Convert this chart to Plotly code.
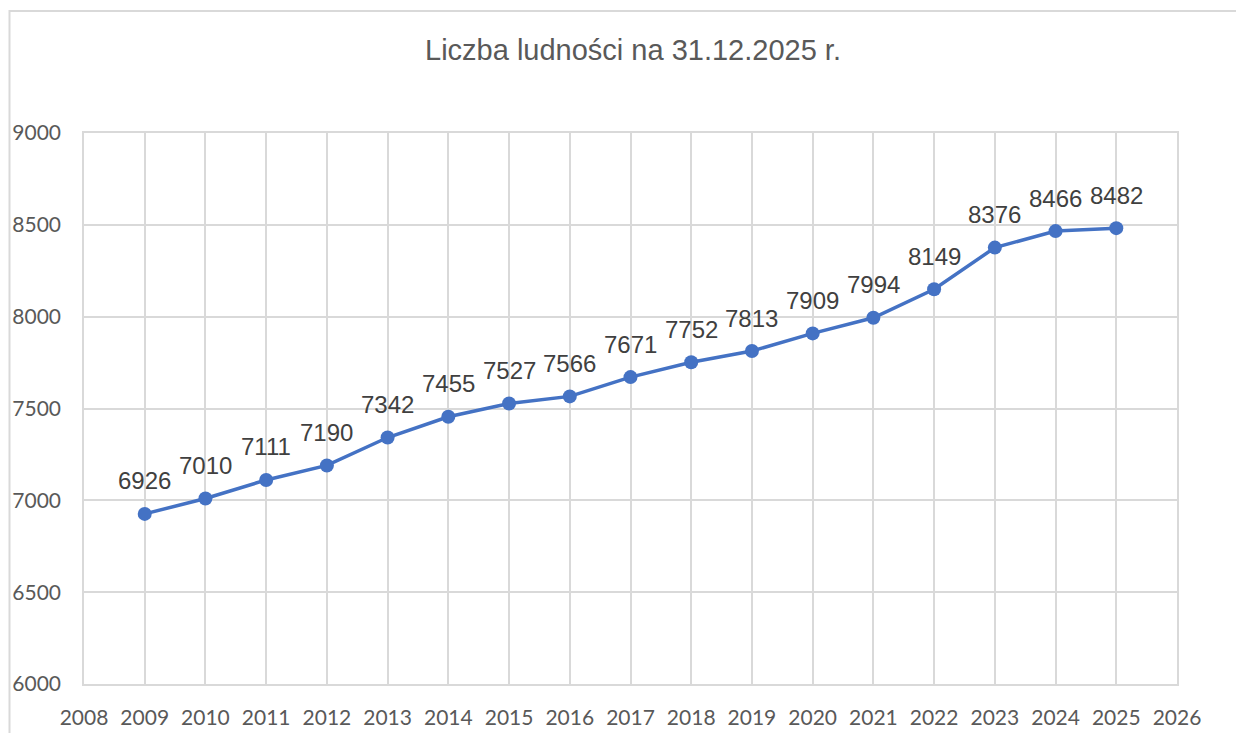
import plotly.graph_objects as go

years = [2009, 2010, 2011, 2012, 2013, 2014, 2015, 2016, 2017, 2018, 2019, 2020, 2021, 2022, 2023, 2024, 2025]
population = [6926, 7010, 7111, 7190, 7342, 7455, 7527, 7566, 7671, 7752, 7813, 7909, 7994, 8149, 8376, 8466, 8482]
title_text = "Liczba ludności na 31.12.2025 r."

# page has an 8px body margin; figure coordinates are page - 8
OFF = 8
W, H = 1244 - OFF, 733 - OFF
L, R, T, B = 84 - OFF, 1177 - OFF, 133 - OFF, 684 - OFF

fig = go.Figure()
fig.add_trace(go.Scatter(
    x=years, y=population, mode="lines+markers",
    line=dict(color="#4472C4", width=3.5),
    marker=dict(color="#4472C4", size=14),
    cliponaxis=False, showlegend=False,
))

for yr, val in zip(years, population):
    fig.add_annotation(x=yr, y=val, text=str(val), showarrow=False,
                       yshift=33, xanchor="center", yanchor="middle",
                       font=dict(family="Liberation Sans, Arial", size=24, color="#404040"))

def px_x(p):
    return (p - L) / (R - L)

def px_y(p):
    return (B - p) / (B - T)

fig.add_shape(type="rect", xref="paper", yref="paper",
              x0=px_x(9.5 - OFF), x1=px_x(1243 - OFF), y0=px_y(745), y1=px_y(11 - OFF),
              line=dict(color="#d9d9d9", width=2), layer="below")

fig.update_layout(
    width=W, height=H,
    margin=dict(l=L, r=W - R, t=T, b=H - B, autoexpand=False),
    paper_bgcolor="white", plot_bgcolor="white",
    title=dict(text=title_text, x=(633 - OFF) / W, xanchor="center", y=1 - (50 - OFF) / H, yanchor="middle",
               font=dict(family="Liberation Sans, Arial", size=29, color="#595959")),
    xaxis=dict(range=[2008, 2026], tickmode="linear", tick0=2008, dtick=1,
               showgrid=True, gridcolor="#d9d9d9", gridwidth=1.5,
               showline=True, linecolor="#d9d9d9", linewidth=1.5, mirror=True,
               zeroline=False, ticks="", automargin=False,
               tickfont=dict(family="Lato, Carlito, Calibri", size=21, color="#595959"),
               ticklabelstandoff=14),
    yaxis=dict(range=[6000, 9000], tickmode="linear", tick0=6000, dtick=500,
               showgrid=True, gridcolor="#d9d9d9", gridwidth=1.5,
               showline=True, linecolor="#d9d9d9", linewidth=1.5, mirror=True,
               zeroline=False, ticks="", automargin=False,
               tickfont=dict(family="Lato, Carlito, Calibri", size=21, color="#595959"),
               ticklabelstandoff=17),
)

fig.write_html("out.html")
